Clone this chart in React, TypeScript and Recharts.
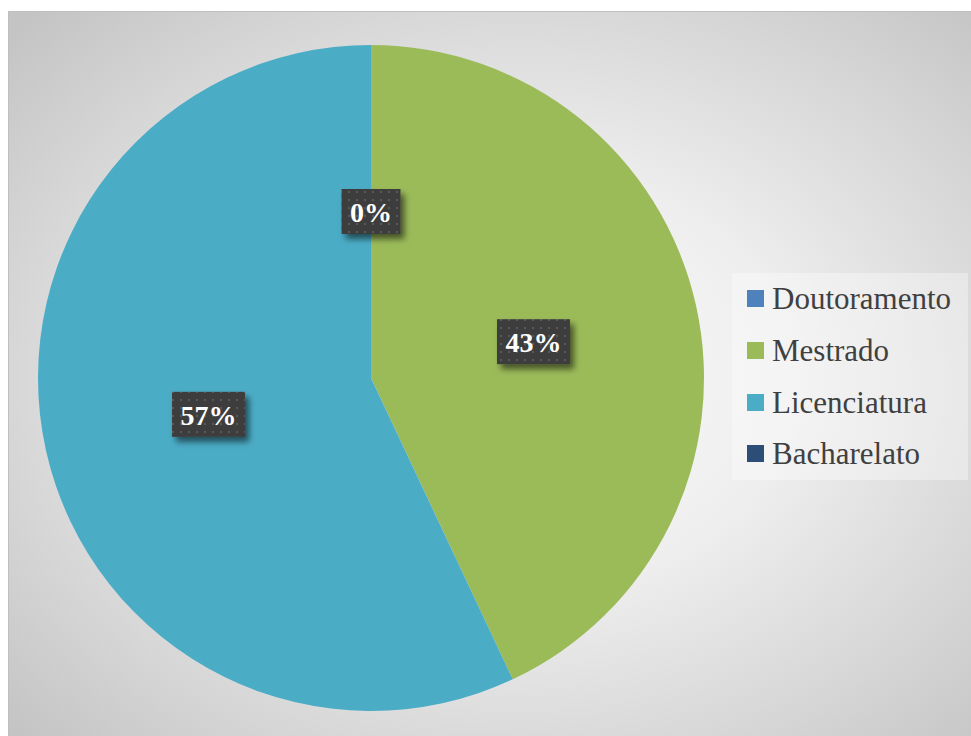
import { Legend, Pie, PieChart, Cell } from "recharts";

const categories = ["Doutoramento", "Mestrado", "Licenciatura", "Bacharelato"];
const shares = [0, 43, 57, 0];
const colors = ["#4F81BD", "#9BBB59", "#4BACC6", "#2C4D75"];

const data = categories.map((name, i) => ({ name, value: shares[i] }));

const RAD = Math.PI / 180;
const FONT = '"Liberation Serif", "DejaVu Serif", serif';

function charWidth(c: string) {
  return c === "%" ? 28 : 14;
}

function renderLabel(props: any) {
  const { cx, cy, midAngle, outerRadius, value, index } = props;
  if (categories[index] === "Bacharelato") return null;
  const r = outerRadius * 0.5;
  const x = cx + r * Math.cos(-midAngle * RAD);
  const y = cy + r * Math.sin(-midAngle * RAD);
  const text = `${Math.round(value)}%`;
  const w = text.split("").reduce((s, c) => s + charWidth(c), 0) + 17;
  const h = 45;
  return (
    <g key={`lbl-${index}`}>
      <rect
        x={x - w / 2}
        y={y - h / 2}
        width={w}
        height={h}
        fill="url(#dots)"
        filter="url(#boxShadow)"
      />
      <text
        x={x}
        y={y + 1}
        textAnchor="middle"
        dominantBaseline="central"
        fill="#ffffff"
        fontFamily={FONT}
        fontWeight="bold"
        fontSize={28}
      >
        {text}
      </text>
    </g>
  );
}

function LegendBox() {
  return (
    <div
      style={{
        width: 236,
        height: 207,
        background: "rgba(255,255,255,0.35)",
        boxSizing: "border-box",
        paddingLeft: 15,
      }}
    >
      {categories.map((name, i) => (
        <div
          key={name}
          style={{ height: 51.7, display: "flex", alignItems: "center" }}
        >
          <span
            style={{
              display: "inline-block",
              width: 17,
              height: 17,
              background: colors[i],
              marginRight: 8,
              flexShrink: 0,
            }}
          />
          <span
            style={{
              fontFamily: FONT,
              fontSize: 31,
              color: "#404040",
              lineHeight: "31px",
              whiteSpace: "nowrap",
            }}
          >
            {name}
          </span>
        </div>
      ))}
    </div>
  );
}

export default function App() {
  return (
    <div style={{ paddingLeft: 8, paddingTop: 11 }}>
      <style>{`html,body{margin:0;overflow:hidden}`}</style>
      <div
        style={{
          width: 980,
          height: 740,
          border: "1px solid #bfbfbf",
          background:
            "radial-gradient(ellipse 70% 70% at 52% 50%, #fbfbfb 0%, #eeeeee 40%, #d6d6d6 75%, #c4c4c4 100%)",
        }}
      >
        <PieChart width={980} height={740}>
          <defs>
            <pattern id="dots" width="8" height="8" patternUnits="userSpaceOnUse">
              <rect width="8" height="8" fill="#3d3d3d" />
              <circle cx="4" cy="4" r="1.3" fill="#575757" />
            </pattern>
            <filter id="boxShadow" x="-30%" y="-30%" width="160%" height="170%">
              <feDropShadow dx="4" dy="5" stdDeviation="3" floodColor="#000" floodOpacity="0.55" />
            </filter>
          </defs>
          <Pie
            data={data}
            dataKey="value"
            nameKey="name"
            cx={357}
            cy={361}
            outerRadius={333}
            startAngle={90}
            endAngle={-270}
            stroke="none"
            label={renderLabel}
            labelLine={false}
            isAnimationActive={false}
          >
            {data.map((d, i) => (
              <Cell key={d.name} fill={colors[i]} />
            ))}
          </Pie>
          <Legend
            content={<LegendBox />}
            wrapperStyle={{ left: 723, top: 261, width: 236 }}
          />
        </PieChart>
      </div>
    </div>
  );
}
